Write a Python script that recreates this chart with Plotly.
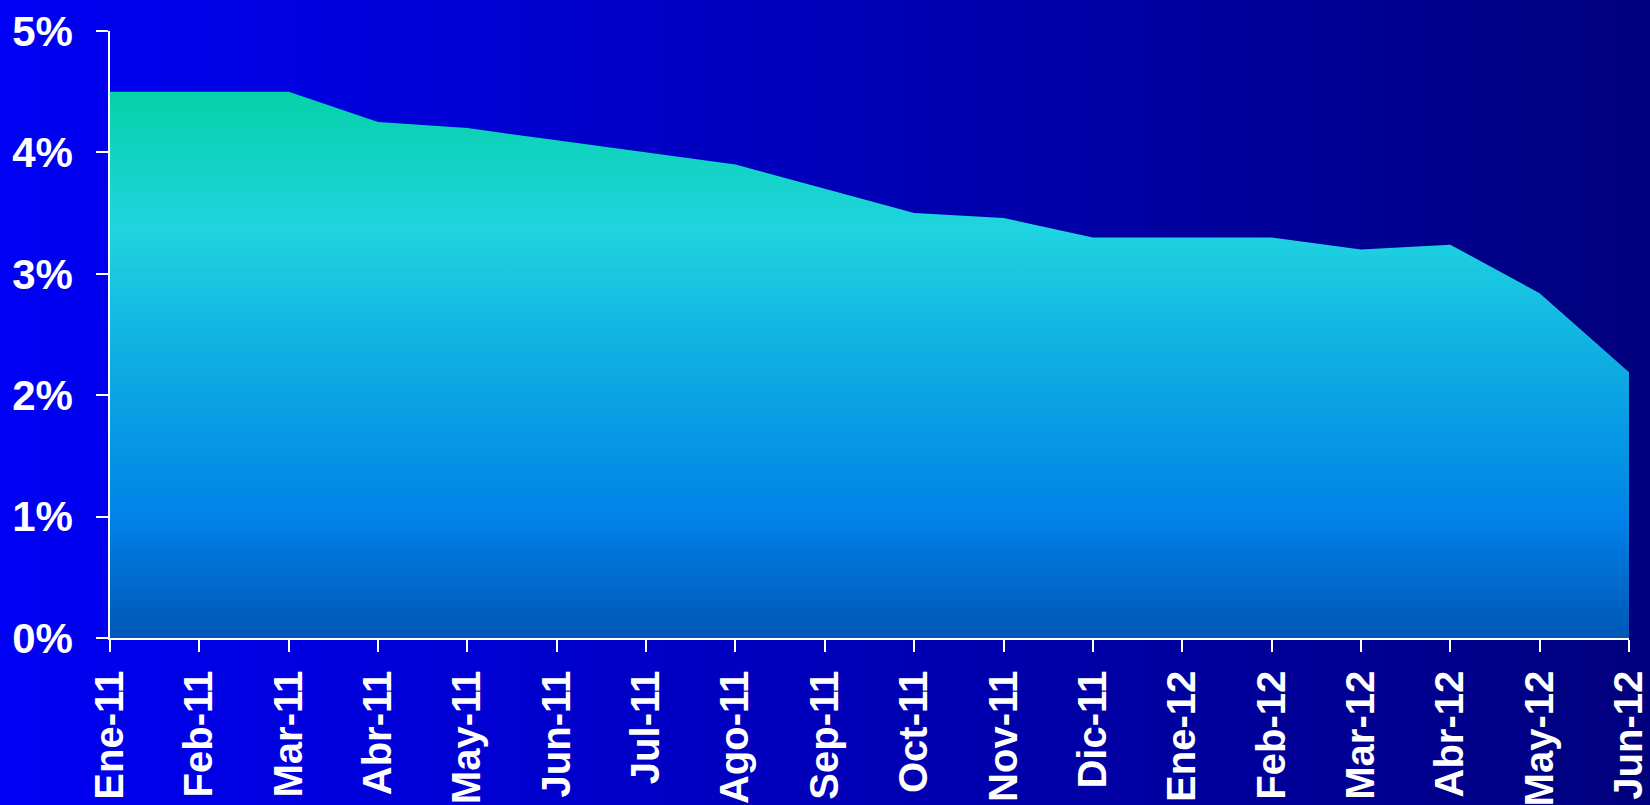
import plotly.graph_objects as go

# ---- data ----
months = ["Ene-11", "Feb-11", "Mar-11", "Abr-11", "May-11", "Jun-11", "Jul-11", "Ago-11",
          "Sep-11", "Oct-11", "Nov-11", "Dic-11", "Ene-12", "Feb-12", "Mar-12", "Abr-12",
          "May-12", "Jun-12"]
rate = [4.50, 4.50, 4.50, 4.25, 4.20, 4.10, 4.00, 3.90, 3.70, 3.50, 3.46, 3.30,
        3.30, 3.30, 3.20, 3.24, 2.84, 2.19]
y_ticks = [0, 1, 2, 3, 4, 5]
y_tick_labels = ["0%", "1%", "2%", "3%", "4%", "5%"]

# ---- layout geometry ----
W, H = 1650, 805
ML, MR, MT, MB = 110, 21, 31, 167
PW = W - ML - MR
PH = H - MT - MB

FONT = "Liberation Sans, Arial, Helvetica, sans-serif"

fig = go.Figure()

fig.add_trace(go.Scatter(
    x=list(range(len(months))), y=rate,
    mode="lines", line=dict(width=0, color="rgba(0,0,0,0)"),
    fill="tozeroy",
    fillgradient=dict(
        type="vertical", start=0, stop=4.5,
        colorscale=[
            [0.0, "rgb(0,86,182)"],
            [0.22, "rgb(0,130,232)"],
            [0.5, "rgb(14,172,226)"],
            [0.75, "rgb(32,212,224)"],
            [1.0, "rgb(5,210,168)"],
        ],
    ),
    hoverinfo="skip", showlegend=False,
))

# background horizontal gradient (decoration)
shapes = []
n = 110
for i in range(n):
    px0 = W * i / n
    px1 = W * (i + 1) / n + 1
    t = (i + 0.5) / n
    b = round(245 - (245 - 125) * t)
    shapes.append(dict(
        type="rect", xref="paper", yref="paper",
        x0=(px0 - ML) / PW, x1=(px1 - ML) / PW,
        y0=-(MB + 5) / PH, y1=1 + (MT + 5) / PH,
        fillcolor=f"rgb(0,0,{b})", line=dict(width=0), layer="below",
    ))

fig.update_layout(
    width=W, height=H,
    margin=dict(l=ML, r=MR, t=MT, b=MB, pad=0, autoexpand=False),
    paper_bgcolor="rgb(0,0,245)",
    plot_bgcolor="rgba(0,0,0,0)",
    shapes=shapes,
    showlegend=False,
    xaxis=dict(
        range=[0, len(months) - 1],
        tickmode="array", tickvals=list(range(len(months))), ticktext=months,
        tickangle=-90,
        showline=True, linecolor="white", linewidth=1.5,
        ticks="outside", ticklen=12, tickcolor="white", tickwidth=1.5,
        showgrid=False, zeroline=False,
        tickfont=dict(family=FONT, size=40, color="white", weight="bold"),
        ticklabelstandoff=3,
        ticklabeloverflow="allow",
        automargin=False,
        fixedrange=True,
    ),
    yaxis=dict(
        range=[0, 5],
        tickmode="array", tickvals=y_ticks, ticktext=y_tick_labels,
        showline=True, linecolor="white", linewidth=1.5,
        ticks="outside", ticklen=12, tickcolor="white", tickwidth=1.5,
        showgrid=False, zeroline=False,
        tickfont=dict(family=FONT, size=42, color="white", weight="bold"),
        ticklabelstandoff=15,
        ticklabeloverflow="allow",
        automargin=False,
        fixedrange=True,
    ),
)

fig.write_html("out.html", config={"displayModeBar": False})
